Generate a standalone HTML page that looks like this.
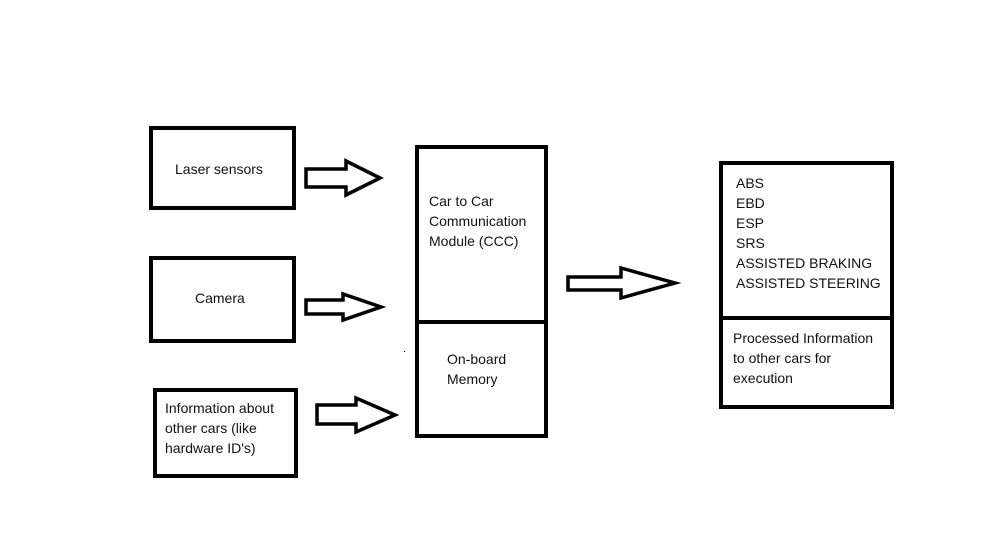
<!DOCTYPE html>
<html><head><meta charset="utf-8"><style>
html,body{margin:0;padding:0;background:#fff;}
svg{display:block}
text{font-family:"Liberation Sans",sans-serif;font-size:14px;fill:#111;}
</style></head><body>
<svg width="1000" height="558" viewBox="0 0 1000 558" xmlns="http://www.w3.org/2000/svg">
<g fill="none" stroke="#000" stroke-width="4">
<rect x="151" y="128" width="143" height="80"/>
<rect x="151" y="258" width="143" height="83"/>
<rect x="155" y="390" width="141" height="86"/>
<rect x="417" y="147" width="129" height="289"/>
<line x1="417" y1="322" x2="546" y2="322"/>
<rect x="721" y="163" width="171" height="244"/>
<line x1="721" y1="318" x2="894" y2="318"/>
</g>
<g fill="#fff" stroke="#000" stroke-width="3.5" stroke-linejoin="miter">
<polygon points="306,169 346,169 346,161 380,178 346,195 346,187 306,187"/>
<polygon points="306,300 343,300 343,294 381,307 343,320 343,314 306,314"/>
<polygon points="317,405 356,405 356,398 395,415 356,432 356,424 317,424"/>
<polygon points="568,277 621,277 621,268 675,283 621,298 621,290 568,290"/>
</g>
<rect x="404" y="351" width="1" height="1" fill="#000"/>
<text x="175" y="174">Laser sensors</text>
<text x="195" y="303">Camera</text>
<text x="165" y="413">Information about</text>
<text x="165" y="433">other cars (like</text>
<text x="165" y="453">hardware ID's)</text>
<text x="429" y="206">Car to Car</text>
<text x="429" y="226">Communication</text>
<text x="429" y="246">Module (CCC)</text>
<text x="447" y="364">On-board</text>
<text x="447" y="384">Memory</text>
<text x="736" y="188">ABS</text>
<text x="736" y="208">EBD</text>
<text x="736" y="228">ESP</text>
<text x="736" y="248">SRS</text>
<text x="736" y="268">ASSISTED BRAKING</text>
<text x="736" y="288">ASSISTED STEERING</text>
<text x="733" y="343">Processed Information</text>
<text x="733" y="363">to other cars for</text>
<text x="733" y="383">execution</text>
</svg>
</body></html>
